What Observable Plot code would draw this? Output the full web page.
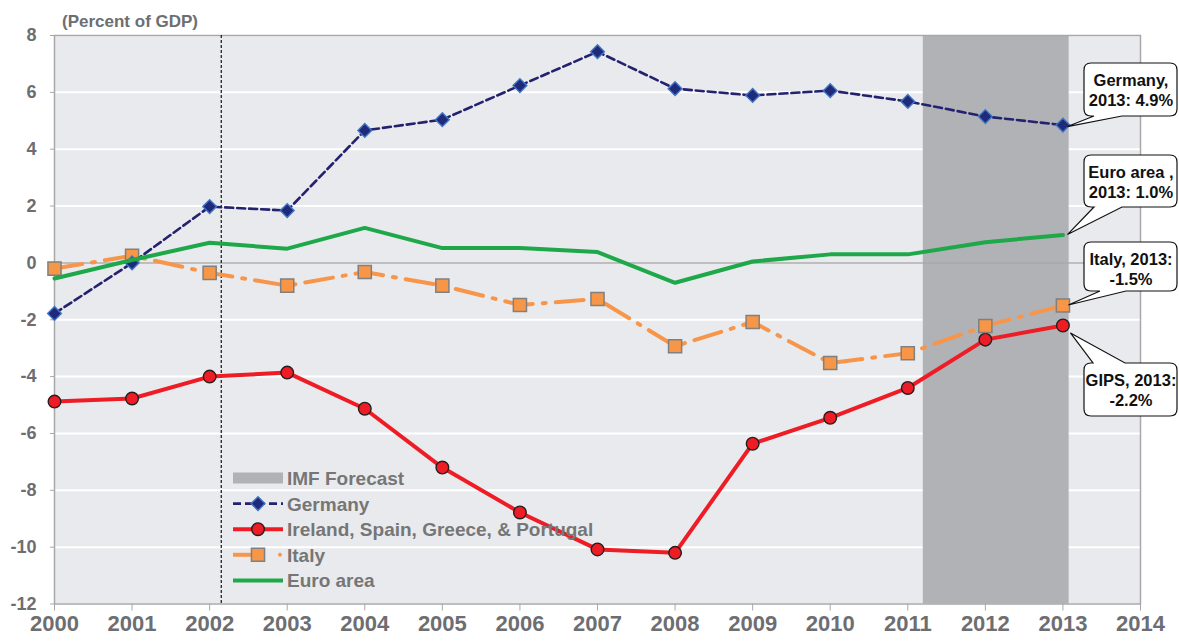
<!DOCTYPE html>
<html><head><meta charset="utf-8">
<script src="https://cdn.jsdelivr.net/npm/d3@7"></script>
<script src="https://cdn.jsdelivr.net/npm/@observablehq/plot@0.6"></script>
<style>
html,body{margin:0;padding:0;background:#fff;}
#chart{position:relative;width:1179px;height:644px;overflow:hidden;}
#chart svg{display:block;}
</style></head><body><div id="chart"></div>
<script>
// ---- data ----
const years = [2000,2001,2002,2003,2004,2005,2006,2007,2008,2009,2010,2011,2012,2013];
const germany  = [-1.78, 0.0, 1.98, 1.84, 4.66, 5.04, 6.24, 7.43, 6.13, 5.89, 6.06, 5.68, 5.15, 4.85];
const gips     = [-4.88,-4.77,-4.0,-3.86,-5.13,-7.2,-8.78,-10.08,-10.2,-6.36,-5.45,-4.4,-2.7,-2.2];
const italy    = [-0.2, 0.25,-0.35,-0.8,-0.32,-0.8,-1.48,-1.27,-2.93,-2.08,-3.52,-3.18,-2.22,-1.5];
const euroArea = [-0.55, 0.1, 0.71, 0.5, 1.23, 0.52, 0.52, 0.38,-0.7, 0.05, 0.3, 0.3, 0.73, 0.98];
const xTicks = [2000,2001,2002,2003,2004,2005,2006,2007,2008,2009,2010,2011,2012,2013,2014];
const yTicks = [-12,-10,-8,-6,-4,-2,0,2,4,6,8];
const forecastBand = [{start: 2011.2, end: 2013.08}];
const markerYear = [2002.15];
const legendLabels = ["IMF Forecast","Germany","Ireland, Spain, Greece, & Portugal","Italy","Euro area"];
const unitLabel = "(Percent of GDP)";
const callouts = [
  {series:"Germany", value: germany[13], lines:["Germany,","2013: 4.9%"]},
  {series:"Euro area", value: euroArea[13], lines:["Euro area ,","2013: 1.0%"]},
  {series:"Italy", value: italy[13], lines:["Italy, 2013:","-1.5%"]},
  {series:"GIPS", value: gips[13], lines:["GIPS, 2013:","-2.2%"]}
];

// ---- styles ----
const C = {
  germany:"#24226f", germanyDot:"#1f2a7a", germanyDotStroke:"#4274c4",
  gips:"#ee1c25", italy:"#f7964a", italyStroke:"#808080", euro:"#1ea84a",
  band:"#b1b2b6", bg:"#e9eaed", axis:"#a8a8a8", text:"#6d6e71", legendText:"#767676"
};
const FONT = "'Liberation Sans', Arial, Helvetica, sans-serif";

const rows = (vals) => years.map((year,i)=>({year, value: vals[i]}));
const gRows = rows(germany), pRows = rows(gips), iRows = rows(italy), eRows = rows(euroArea);

const plot = Plot.plot({
  width:1179, height:644,
  marginLeft:54, marginRight:39, marginTop:35, marginBottom:40.5,
  style:{fontFamily:FONT, background:"transparent", overflow:"visible"},
  x:{domain:[2000,2014], label:null},
  y:{domain:[-12,8], label:null},
  marks:[
    Plot.frame({fill:C.bg, stroke:null}),
    Plot.gridY(yTicks, {stroke:"#ffffff", strokeOpacity:1, strokeWidth:2}),
    Plot.rect(forecastBand, {x1:"start", x2:"end", fill:C.band}),
    Plot.ruleY([0], {stroke:C.axis, strokeWidth:1.5}),
    Plot.frame({stroke:C.axis, strokeWidth:1.5}),
    Plot.ruleX(markerYear, {stroke:"#222", strokeWidth:1.3, strokeDasharray:"3,2"}),
    Plot.axisY(yTicks, {tickSize:4, tickPadding:14, fontSize:18, fontWeight:"bold", fill:C.text, stroke:C.axis, tickFormat:d=>String(d)}),
    Plot.axisX(xTicks, {tickSize:7, tickPadding:4, fontSize:22, fontWeight:"bold", fill:C.text, stroke:C.axis, tickFormat:d=>String(d)}),
    // Ireland, Spain, Greece, & Portugal
    Plot.line(pRows, {x:"year", y:"value", stroke:C.gips, strokeWidth:4}),
    Plot.dot(pRows, {x:"year", y:"value", r:6.3, fill:C.gips, stroke:"#231f20", strokeWidth:1.4}),
    // Italy
    Plot.line(iRows, {x:"year", y:"value", stroke:C.italy, strokeWidth:4, strokeDasharray:"28,10,3,10", strokeLinecap:"round"}),
    Plot.dot(iRows, {x:"year", y:"value", symbol:"square", r:7.4, fill:"#f79646", stroke:C.italyStroke, strokeWidth:1.5}),
    // Germany
    Plot.line(gRows, {x:"year", y:"value", stroke:C.germany, strokeWidth:2.6, strokeDasharray:"8,4"}),
    Plot.dot(gRows, {x:"year", y:"value", symbol:"diamond2", r:6.2, fill:C.germanyDot, stroke:C.germanyDotStroke, strokeWidth:1.4}),
    // Euro area
    Plot.line(eRows, {x:"year", y:"value", stroke:C.euro, strokeWidth:4})
  ]
});
document.getElementById("chart").appendChild(plot);

const svg = d3.select(plot);
const X = plot.scale("x"), Y = plot.scale("y");

// unit label
svg.append("text").attr("x",62).attr("y",27).attr("text-anchor","start").attr("font-family",FONT).attr("font-size",17)
  .attr("font-weight","bold").attr("fill",C.text).text(unitLabel);

// ---- legend ----
const lg = svg.append("g").attr("font-family",FONT).attr("text-anchor","start");
const lx0 = 233, lx1 = 283, lmx = 258, ltx = 287, ly0 = 478, lstep = 25.6;
legendLabels.forEach((label,i)=>{
  const cy = ly0 + i*lstep;
  if (i===0) {
    lg.append("rect").attr("x",lx0).attr("y",cy-5.5).attr("width",lx1-lx0).attr("height",11).attr("fill",C.band);
  } else if (i===1) {
    lg.append("line").attr("x1",lx0).attr("x2",lx1).attr("y1",cy).attr("y2",cy)
      .attr("stroke",C.germany).attr("stroke-width",2.6).attr("stroke-dasharray","8,4");
    lg.append("path").attr("transform",`translate(${lmx},${cy})`)
      .attr("d",d3.symbol(d3.symbolDiamond2, Math.PI*6.2*6.2)()).attr("fill",C.germanyDot)
      .attr("stroke",C.germanyDotStroke).attr("stroke-width",1.4);
  } else if (i===2) {
    lg.append("line").attr("x1",lx0).attr("x2",lx1).attr("y1",cy).attr("y2",cy)
      .attr("stroke",C.gips).attr("stroke-width",4);
    lg.append("circle").attr("cx",lmx).attr("cy",cy).attr("r",6.3).attr("fill",C.gips)
      .attr("stroke","#231f20").attr("stroke-width",1.4);
  } else if (i===3) {
    lg.append("line").attr("x1",lx0).attr("x2",lx0+28).attr("y1",cy).attr("y2",cy)
      .attr("stroke",C.italy).attr("stroke-width",4);
    lg.append("circle").attr("cx",lx0+47).attr("cy",cy).attr("r",2).attr("fill",C.italy);
    lg.append("path").attr("transform",`translate(${lmx},${cy})`)
      .attr("d",d3.symbol(d3.symbolSquare, Math.PI*7.4*7.4)()).attr("fill","#f79646")
      .attr("stroke",C.italyStroke).attr("stroke-width",1.5);
  } else {
    lg.append("line").attr("x1",lx0).attr("x2",lx1).attr("y1",cy).attr("y2",cy)
      .attr("stroke",C.euro).attr("stroke-width",4);
  }
  lg.append("text").attr("x",ltx).attr("y",cy+7).attr("text-anchor","start").attr("font-size",19).attr("font-weight","bold")
    .attr("fill",C.legendText).text(label);
});

// ---- callouts ----
function calloutPath(x0,y0,x1,y1,r,side,b1,b2,tx,ty){
  let p = `M${x0+r},${y0}`;
  if (side==="top") p += `L${b1},${y0}L${tx},${ty}L${b2},${y0}`;
  p += `L${x1-r},${y0}Q${x1},${y0} ${x1},${y0+r}L${x1},${y1-r}Q${x1},${y1} ${x1-r},${y1}`;
  if (side==="bottom") p += `L${b2},${y1}L${tx},${ty}L${b1},${y1}`;
  p += `L${x0+r},${y1}Q${x0},${y1} ${x0},${y1-r}L${x0},${y0+r}Q${x0},${y0} ${x0+r},${y0}Z`;
  return p;
}
const boxGeom = [
  {y0:63,  y1:116, side:"bottom", b1:1094, b2:1122, dx:5, dy:2},
  {y0:155, y1:207, side:"bottom", b1:1094, b2:1122, dx:5, dy:0},
  {y0:242, y1:291, side:"bottom", b1:1100, b2:1126, dx:6, dy:0},
  {y0:363, y1:416, side:"top",    b1:1093, b2:1125, dx:8, dy:8}
];
const cg = svg.append("g").attr("font-family",FONT);
callouts.forEach((c,i)=>{
  const g = boxGeom[i];
  const tx = X.apply(2013)+g.dx, ty = Y.apply(c.value)+g.dy;
  cg.append("path").attr("d",calloutPath(1084,g.y0,1177,g.y1,7,g.side,g.b1,g.b2,tx,ty))
    .attr("fill","#fff").attr("stroke","#111").attr("stroke-width",1.2);
  c.lines.forEach((t,j)=>{
    cg.append("text").attr("x",1131).attr("y",g.y0+23+j*20).attr("text-anchor","middle")
      .attr("font-size",16.5).attr("font-weight","bold").attr("fill","#111").text(t);
  });
});
</script>
</body></html>
